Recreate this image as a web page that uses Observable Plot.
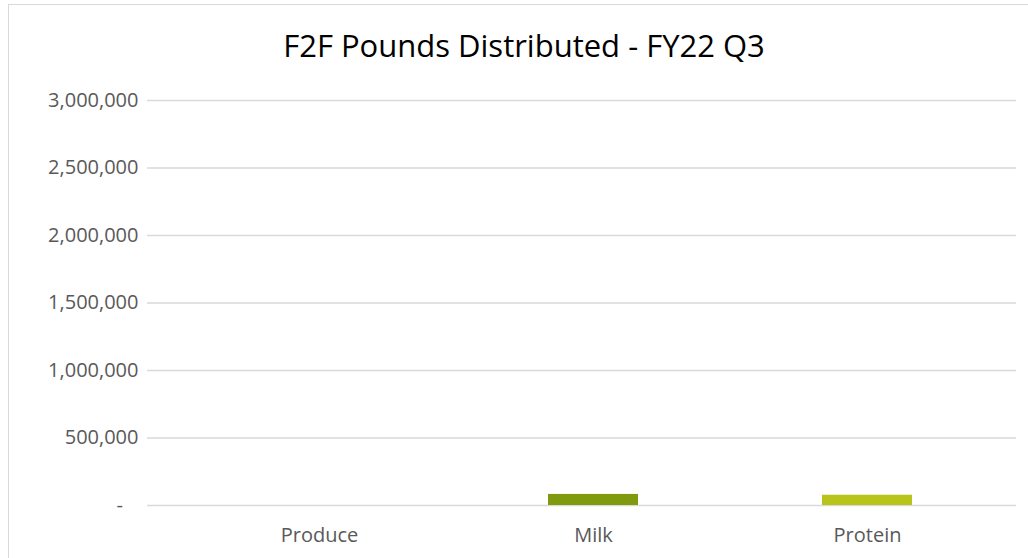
<!DOCTYPE html>
<html>
<head>
<meta charset="utf-8">
<script src="https://cdn.jsdelivr.net/npm/d3@7"></script>
<script src="https://cdn.jsdelivr.net/npm/@observablehq/plot@0.6"></script>
<style>
  html, body { margin: 0; padding: 0; background: #fff; }
  #wrap { position: relative; width: 1028px; height: 558px; overflow: hidden; }
  #frame { position: absolute; left: 8px; top: 4px; width: 1100px; height: 700px;
           border-left: 1.5px solid #d9d9d9; border-top: 1.5px solid #d9d9d9; box-sizing: border-box; }
  #title { position: relative; height: 80px; line-height: 90px; text-align: center;
           font-family: "Open Sans", sans-serif; font-size: 31px; color: #000; padding-left: 20px; }
  #chart svg { display: block; }
</style>
</head>
<body>
<div id="wrap">
  <div id="frame"></div>
  <div id="title">F2F Pounds Distributed - FY22 Q3</div>
  <div id="chart"></div>
</div>
<script>
const categories = ["Produce", "Milk", "Protein"];
const pounds = [0, 82000, 76000];
const barColors = ["#7f9a0e", "#7f9a0e", "#b8c41a"];
const yTicks = [0, 500000, 1000000, 1500000, 2000000, 2500000, 3000000];

const data = categories.map((c, i) => ({category: c, value: pounds[i], color: barColors[i]}));

const plot = Plot.plot({
  width: 1028,
  height: 478,
  marginLeft: 147,
  marginRight: 12,
  marginTop: 20,
  marginBottom: 53,
  style: {fontFamily: "Open Sans, sans-serif", fontSize: "20px", color: "#595959", background: "transparent"},
  x: {domain: categories, paddingInner: 0.67, paddingOuter: 0.335, insetLeft: 34, insetRight: 11, label: null},
  y: {domain: [0, 3000000], label: null},
  marks: [
    Plot.gridY(yTicks, {stroke: "#d9d9d9", strokeOpacity: 1, strokeWidth: 1.3}),
    Plot.barY(data, {x: "category", y: "value", fill: "color"}),
    Plot.axisY(yTicks, {tickSize: 0, tickPadding: 9, fill: "#595959",
      tickFormat: d => d === 0 ? "-\u00a0\u00a0\u00a0" : d3.format(",")(d)}),
    Plot.axisX({tickSize: 0, tickPadding: 22, fill: "#595959"})
  ]
});
document.getElementById("chart").appendChild(plot);
</script>
</body>
</html>
